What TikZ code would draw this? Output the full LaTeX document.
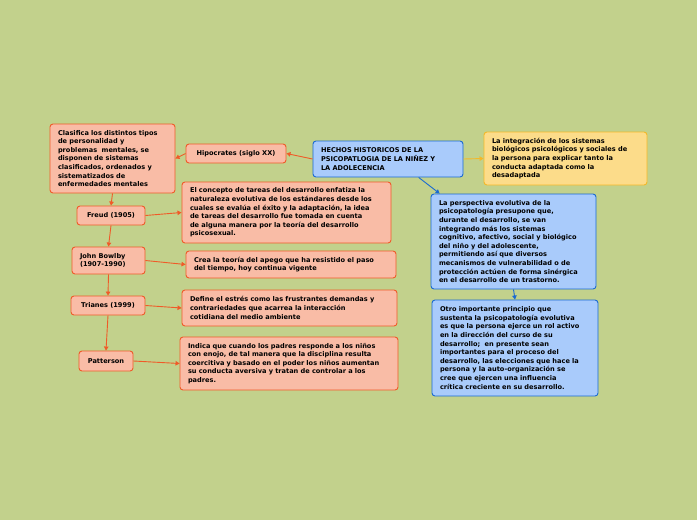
\documentclass[tikz,border=0pt]{standalone}
\usepackage{fontspec}
\setmainfont{DejaVu Sans}
\usetikzlibrary{arrows.meta, positioning}
\definecolor{fondo}{HTML}{C2D18C}
\definecolor{naranja}{HTML}{F9BCA6}
\definecolor{naranjaln}{HTML}{F05A28}
\definecolor{azul}{HTML}{A9CBFB}
\definecolor{azulln}{HTML}{1A6AD2}
\definecolor{amarillo}{HTML}{FCDC8A}
\definecolor{amarilloln}{HTML}{F4B828}

\begin{document}
\begin{tikzpicture}[
  x=1pt, y=-1pt,
  font=\bfseries\fontsize{6.6}{8.6}\selectfont,
  caja/.style={rounded corners=3pt, line width=0.9pt, inner sep=0pt, align=left},
  tema/.style={caja, draw=azulln, fill=azul},
  idea/.style={caja, draw=naranjaln, fill=naranja},
  autor/.style={caja, draw=naranjaln, fill=naranja, align=center},
  nota/.style={caja, draw=amarilloln, fill=amarillo},
  arr/.style={-{Triangle[length=4pt,width=4.5pt]}, naranjaln, line width=0.9pt},
  arrazul/.style={-{Triangle[length=4pt,width=4.5pt]}, azulln, line width=0.9pt},
  arramar/.style={-{Triangle[length=4pt,width=4.5pt]}, amarilloln, line width=0.9pt}
]
\fill[fondo] (0,0) rectangle (697,520);
\useasboundingbox (0,0) rectangle (697,520);

\node[tema, minimum width=150, minimum height=36, text width=134] (hechos) at (388,159)
  {HECHOS HISTORICOS DE LA\\ PSICOPATLOGIA DE LA NIÑEZ Y\\ LA ADOLECENCIA};
\node[nota, minimum width=163, minimum height=53, text width=147] (integra) at (565.5,158.5)
  {La integración de los sistemas\\ biológicos psicológicos y sociales de\\ la persona para explicar tanto la\\ conducta adaptada como la\\ desadaptada};
\node[tema, minimum width=165, minimum height=95, text width=149] (perspectiva) at (513.5,241.5)
  {La perspectiva evolutiva de la\\ psicopatología presupone que,\\ durante el desarrollo, se van\\ integrando más los sistemas\\ cognitivo, afectivo, social y biológico\\ del niño y del adolescente,\\ permitiendo así que diversos\\ mecanismos de vulnerabilidad o de\\ protección actúen de forma sinérgica\\ en el desarrollo de un trastorno.};
\node[tema, minimum width=166, minimum height=96, text width=150] (principio) at (515,348)
  {Otro importante principio que\\ sustenta la psicopatología evolutiva\\ es que la persona ejerce un rol activo\\ en la dirección del curso de su\\ desarrollo;~ en presente sean\\ importantes para el proceso del\\ desarrollo, las elecciones que hace la\\ persona y la auto-organización se\\ cree que ejercen una influencia\\ crítica creciente en su desarrollo.};

\node[autor, minimum width=100, minimum height=19] (hipocrates) at (236,153.5) {Hipocrates (siglo XX)};
\node[idea, minimum width=125, minimum height=69, text width=109] (clasifica) at (112.5,158.5)
  {Clasifica los distintos tipos\\ de personalidad y\\ problemas~ mentales, se\\ disponen de sistemas\\ clasificados, ordenados y\\ sistematizados de\\ enfermedades mentales};
\node[autor, minimum width=68, minimum height=19] (freud) at (111,215.5) {Freud (1905)};
\node[idea, minimum width=209, minimum height=61, text width=193] (tareas) at (286.5,212.5)
  {El concepto de tareas del desarrollo enfatiza la\\ naturaleza evolutiva de los estándares desde los\\ cuales se evalúa el éxito y la adaptación, la idea\\ de tareas del desarrollo fue tomada en cuenta\\ de alguna manera por la teoría del desarrollo\\ psicosexual.};
\node[idea, minimum width=73, minimum height=27, text width=57] (bowlby) at (108.5,260.5) {John Bowlby\\ (1907-1990)};
\node[idea, minimum width=210, minimum height=27, text width=194] (apego) at (291,264.5)
  {Crea la teoría del apego que ha resistido el paso\\ del tiempo, hoy continua vigente};
\node[autor, minimum width=74, minimum height=19] (trianes) at (108,305.5) {Trianes (1999)};
\node[idea, minimum width=215, minimum height=36, text width=199] (estres) at (289.5,308)
  {Define el estrés como las frustrantes demandas y\\ contrariedades que acarrea la interacción\\ cotidiana del medio ambiente};
\node[autor, minimum width=54, minimum height=20] (patterson) at (106,361) {Patterson};
\node[idea, minimum width=218, minimum height=53, text width=202] (padres) at (289,363.5)
  {Indica que cuando los padres responde a los niños\\ con enojo, de tal manera que la disciplina resulta\\ coercitiva y basado en el poder los niños aumentan\\ su conducta aversiva y tratan de controlar a los\\ padres.};

% conectores
\draw[arr] (hechos.west) -- (hipocrates.east);
\draw[arr] (hipocrates.west) -- (clasifica.east);
\draw[arr] (clasifica.south) -- (freud.north);
\draw[arr] (freud.east) -- (tareas.west);
\draw[arr] (freud.south) -- (bowlby.north);
\draw[arr] (bowlby.east) -- (apego.west);
\draw[arr] (bowlby.south) -- (trianes.north);
\draw[arr] (trianes.east) -- (estres.west);
\draw[arr] (trianes.south) -- (patterson.north);
\draw[arr] (patterson.east) -- (padres.west);
\draw[arramar] (hechos.east) -- (integra.west);
\draw[arrazul] (hechos.-31) -- (perspectiva.147);
\draw[arrazul] (perspectiva.south) -- (principio.north);
\end{tikzpicture}
\end{document}
